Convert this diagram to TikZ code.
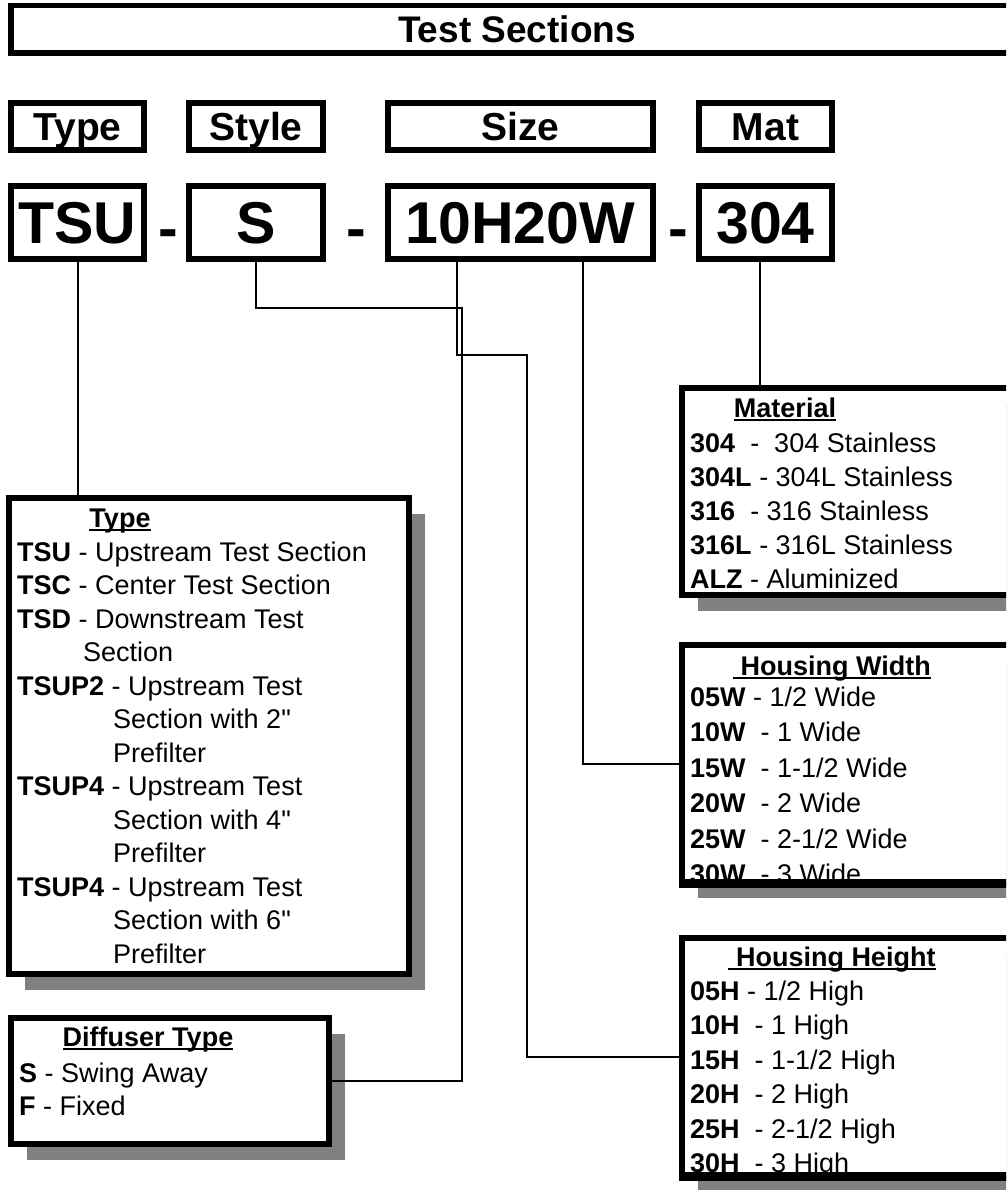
\documentclass[tikz,border=0pt]{standalone}
\usepackage{fontspec}
\setmainfont{Liberation Sans}
\newfontfamily\plainq{Liberation Sans}[Ligatures=ResetAll]
\newcommand{\dq}{{\plainq\symbol{34}}}
\usetikzlibrary{shadows}
\begin{document}
\begin{tikzpicture}[x=1pt,y=-1pt,
  box/.style={draw, line width=6pt, inner sep=0pt, fill=white},
  shbox/.style={box, drop shadow={shadow xshift=16pt, shadow yshift=-16pt, fill=gray, opacity=1}},
  conn/.style={line width=2pt},
  item/.style={anchor=base west, inner sep=0pt, font=\fontsize{27}{30}\selectfont},
  ttl/.style={anchor=base, inner sep=0pt, font=\fontsize{27}{30}\selectfont\bfseries},
  ul/.style={line width=2.5pt},
  hdr/.style={box, text height=28pt, text depth=0pt, font=\fontsize{39}{42}\selectfont\bfseries},
  code/.style={box, text height=42pt, text depth=0pt, font=\fontsize{59}{62}\selectfont\bfseries},
  dashtxt/.style={anchor=base, inner sep=0pt, font=\fontsize{59}{62}\selectfont\bfseries}]
\useasboundingbox (0,0) rectangle (1006,1190);
\fill[white] (0,0) rectangle (1006,1190);
\clip (0,0) rectangle (1006,1190);

% title
\node[box, line width=5.5pt, minimum width=1012.5pt, minimum height=47.5pt,
      text height=26.5pt, text depth=0pt, font=\fontsize{37}{40}\selectfont\bfseries]
      (title) at (517,29.5) {Test Sections};

% header row
\node[hdr, minimum width=133pt, minimum height=47pt] (hType) at (77.5,126.5) {Type};
\node[hdr, minimum width=134pt, minimum height=47pt] (hStyle) at (256,126.5) {Style};
\node[hdr, minimum width=265pt, minimum height=47pt] (hSize) at (520.5,126.5) {Size};
\node[hdr, minimum width=133pt, minimum height=47pt] (hMat) at (765.5,126.5) {Mat};

% code row
\node[code, minimum width=133pt, minimum height=73pt] (tsu) at (77.5,222.5) {TSU};
\node[code, minimum width=134pt, minimum height=73pt] (sty) at (256,222.5) {S};
\node[code, minimum width=265pt, minimum height=73pt] (sz) at (520.5,222.5) {10H20W};
\node[code, minimum width=133pt, minimum height=73pt] (mat) at (765.5,222.5) {304};
\node[dashtxt] (d1) at (168.5,248) {-};
\node[dashtxt] (d2) at (356,248) {-};
\node[dashtxt] (d3) at (678.5,248) {-};

% list boxes
\node[shbox, minimum width=400pt, minimum height=476pt] (typebox) at (209,736) {};
\node[shbox, minimum width=318pt, minimum height=126pt] (dif) at (170,1081) {};
\node[shbox, minimum width=355pt, minimum height=207pt] (matbox) at (859.5,491.5) {};
\node[shbox, minimum width=355pt, minimum height=237pt] (wid) at (859.5,763.5) {};
\node[shbox, minimum width=355pt, minimum height=237pt] (hgt) at (859.5,1056.5) {};

% connectors
\coordinate (sA) at (462,308);
\coordinate (hx) at (457,0);
\coordinate (hA) at (527,355);
\coordinate (wx) at (583,0);
\coordinate (mx) at (760,0);
\draw[conn] (tsu.south) -- (tsu.south |- typebox.north);
\draw[conn] (sty.south) |- (sA) |- (dif.east);
\draw[conn] (sz.south -| hx) |- (hA) |- (hgt.west);
\draw[conn] (sz.south -| wx) |- (wid.west);
\draw[conn] (mat.south -| mx) -- (matbox.north -| mx);

% Type list
\node[ttl] (tyT) at (120,527) {Type};
\draw[ul] ([yshift=-3pt]tyT.base west) -- ([yshift=-3pt]tyT.base east);
\node[item] (ty1) at (17,561) {\textbf{TSU} - Upstream Test Section};
\node[item] (ty2) at (17,594.5) {\textbf{TSC} - Center Test Section};
\node[item] (ty3) at (17,628) {\textbf{TSD} - Downstream Test};
\node[item] (ty4) at (83,661.5) {Section};
\node[item] (ty5) at (17,695) {\textbf{TSUP2} - Upstream Test};
\node[item] (ty6) at (113,728.5) {Section with 2\dq};
\node[item] (ty7) at (113,762) {Prefilter};
\node[item] (ty8) at (17,795.5) {\textbf{TSUP4} - Upstream Test};
\node[item] (ty9) at (113,829) {Section with 4\dq};
\node[item] (ty10) at (113,862.5) {Prefilter};
\node[item] (ty11) at (17,896) {\textbf{TSUP4} - Upstream Test};
\node[item] (ty12) at (113,929.5) {Section with 6\dq};
\node[item] (ty13) at (113,963) {Prefilter};

% Diffuser list
\node[ttl] (dfT) at (148,1046) {Diffuser Type};
\draw[ul] ([yshift=-3pt]dfT.base west) -- ([yshift=-3pt]dfT.base east);
\node[item] (df1) at (19,1082) {\textbf{S} - Swing Away};
\node[item] (df2) at (19,1115) {\textbf{F} - Fixed};

% Material list
\node[ttl] (mtT) at (785,417) {Material};
\draw[ul] ([yshift=-3pt]mtT.base west) -- ([yshift=-3pt]mtT.base east);
\node[item] (mt1) at (690,452) {\textbf{304}~~-~~304 Stainless};
\node[item] (mt2) at (690,486) {\textbf{304L} - 304L Stainless};
\node[item] (mt3) at (690,520) {\textbf{316}~~- 316 Stainless};
\node[item] (mt4) at (690,554) {\textbf{316L} - 316L Stainless};
\node[item] (mt5) at (690,588) {\textbf{ALZ} - Aluminized};

% Housing Width list
\node[ttl] (wdT) at (832,675) {~Housing Width};
\draw[ul] ([yshift=-3pt]wdT.base west) -- ([yshift=-3pt]wdT.base east);
\node[item] (wd1) at (690,706) {\textbf{05W} - 1/2 Wide};
\node[item] (wd2) at (690,741.5) {\textbf{10W}~~- 1 Wide};
\node[item] (wd3) at (690,777) {\textbf{15W}~~- 1-1/2 Wide};
\node[item] (wd4) at (690,812.5) {\textbf{20W}~~- 2 Wide};
\node[item] (wd5) at (690,848) {\textbf{25W}~~- 2-1/2 Wide};
\node[item] (wd6) at (690,883.5) {\textbf{30W}~~- 3 Wide};

% Housing Height list
\node[ttl] (htT) at (832,966) {~Housing Height};
\draw[ul] ([yshift=-3pt]htT.base west) -- ([yshift=-3pt]htT.base east);
\node[item] (ht1) at (690,1000) {\textbf{05H} - 1/2 High};
\node[item] (ht2) at (690,1034.5) {\textbf{10H}~~- 1 High};
\node[item] (ht3) at (690,1069) {\textbf{15H}~~- 1-1/2 High};
\node[item] (ht4) at (690,1103.5) {\textbf{20H}~~- 2 High};
\node[item] (ht5) at (690,1138) {\textbf{25H}~~- 2-1/2 High};
\node[item] (ht6) at (690,1172.5) {\textbf{30H}~~- 3 High};

% bottom borders drawn over the last lines (as in reference)
\draw[line width=6pt] (wid.south west) -- (wid.south east);
\draw[line width=6pt] (hgt.south west) -- (hgt.south east);
\end{tikzpicture}
\end{document}
